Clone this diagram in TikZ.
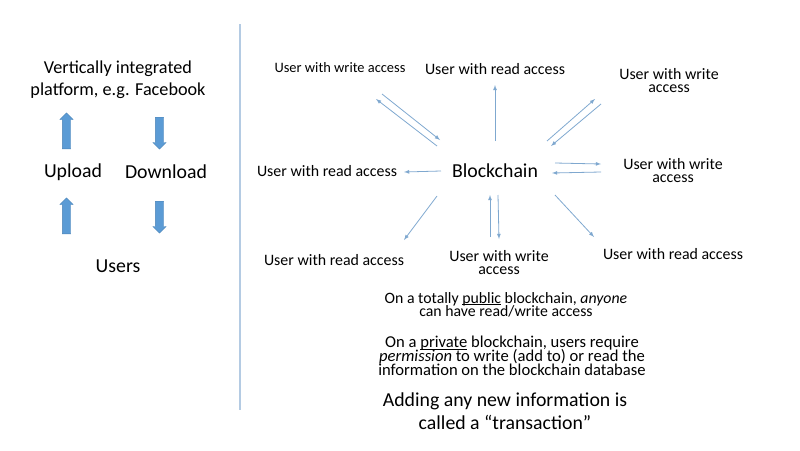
\documentclass[tikz,border=0pt]{standalone}
\usepackage{fontspec}
\setmainfont{Carlito}
\usetikzlibrary{shapes.arrows}
\definecolor{thin blue}{HTML}{7FA8CF}
\definecolor{rule blue}{HTML}{B4CBE3}
\definecolor{fat blue}{HTML}{5B9BD5}
\newcommand{\tightfont}[2]{\fontsize{#1}{#2}\selectfont\lineskiplimit=-20pt\relax}
\newcommand{\ul}[1]{\underline{\smash{#1}}}
\tikzstyle{small label}=[align=center,inner sep=0pt,font=\tightfont{15.9}{13}]
\tikzstyle{note}=[align=center,inner sep=0pt,font=\tightfont{15.8}{13}]
\tikzstyle{long note}=[align=center,inner sep=0pt,font=\tightfont{16.6}{14}]
\tikzstyle{big label}=[align=center,inner sep=0pt,font=\tightfont{19.8}{23}]
\tikzstyle{thin arrow}=[draw=thin blue,line width=0.8pt,-latex]
\tikzstyle{fat up}=[single arrow,fill=fat blue,draw=fat blue!85!black,line width=0.3pt,minimum width=13pt,minimum height=36pt,single arrow head extend=2.5pt,single arrow head indent=0pt,inner sep=4pt,shape border rotate=90,anchor=tail]
\tikzstyle{fat down}=[fat up,minimum height=32pt,shape border rotate=270,anchor=tail]

\begin{document}
\begin{tikzpicture}[x=1pt,y=-1pt]

    \useasboundingbox (0,0) rectangle (800,450);

    % The divider
    \coordinate (top) at (240,24);
    \coordinate (bottom) at (240,410);
    \draw[rule blue,line width=1.2pt] (top) -- (bottom);

    % The platform side
    \node[big label,font=\tightfont{18.2}{22}] (platform) at (118,80) {Vertically integrated\\platform, e.g. Facebook};
    \node[big label] (upload) at (73,172) {Upload};
    \node[big label] (download) at (166,172) {Download};
    \node[big label] (users) at (118,266) {Users};
    \node[fat up] (up a) at (66.5,149) {};
    \node[fat down] (down a) at (159.5,117) {};
    \node[fat up] (up b) at (66.5,234) {};
    \node[fat down] (down b) at (159.5,201) {};

    % The blockchain side
    \node[big label] (chain) at (495,171) {Blockchain};
    \node[small label,font=\tightfont{14.4}{13}] (wa) at (340,68) {User with write access};
    \foreach \pos/\name/\txt in {{(495,69)/rb/User with read access}, {(669,80.5)/wc/User with write\\access}, {(673,171)/wd/User with write\\access}, {(327,171)/re/User with read access}, {(334,260)/rf/User with read access}, {(499,263)/wg/User with write\\access}, {(673,254)/rh/User with read access}} {
      \node[small label] (\name) at \pos {\txt};
    }

    % The free ends of the arrows
    \foreach \x/\y/\name in {382/94/a1, 440/140/a2, 437/146/b1, 376/99/b2, 495/141/c1, 495/85/c2, 547/141/d1, 595/99/d2, 601/104/e1, 551/146/e2, 555/163/f1, 601/164/f2, 601/172/g1, 552/173/g2, 441/171/h1, 404/172/h2, 437/196/i1, 404/240/i2, 490/237/j1, 490/195/j2, 498/195/k1, 499/239/k2, 555/195/l1, 594/237/l2} {
      \coordinate (\name) at (\x,\y);
    }

    % The connections between them
    \foreach \source/\sink in {a1/a2, b1/b2, c1/c2, d1/d2, e1/e2, f1/f2, g1/g2, h1/h2, i1/i2, j1/j2, k1/k2, l1/l2} {
      \path[thin arrow] (\source) -- (\sink);
    }

    % The notes
    \node[note] (public) at (506,304.5) {On a totally \ul{public} blockchain, \textit{anyone}\\can have read/write access};
    \node[long note] (private) at (512,356) {On a \ul{private} blockchain, users require\\\textit{permission} to write (add to) or read the\\information on the blockchain database};
    \node[big label] (transaction) at (505,411) {Adding any new information is\\called a “transaction”};
\end{tikzpicture}
\end{document}
